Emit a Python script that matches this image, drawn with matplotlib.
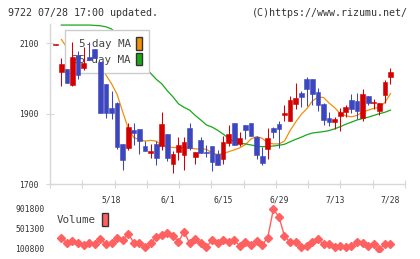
import numpy as np
import matplotlib
matplotlib.use("Agg")
import matplotlib.pyplot as plt
from matplotlib.patches import Patch

plt.rcParams['font.family'] = ['DejaVu Sans Mono']

# candles, index -1 .. 59
opens = [2096, 2019, 2027, 1982, 2067, 2031, 2062, 2083, 2048, 1984, 1916,
         1930, 1814, 1801, 1854, 1856, 1808, 1789, 1814, 1808, 1842,
         1757, 1792, 1782, 1860, 1778, 1825, 1792, 1808, 1784, 1771,
         1818, 1873, 1814, 1868, 1873, 1833, 1780, 1800, 1860, 1871,
         1897, 1880, 1927, 1959, 2000, 1998, 1962, 1927, 1889, 1877,
         1893, 1905, 1939, 1936, 1888, 1950, 1929, 1909, 1953, 2003]
highs = [2098, 2057, 2027, 2105, 2078, 2091, 2103, 2085, 2048, 1984, 1964,
         1932, 1814, 1873, 1873, 1856, 1823, 1813, 1823, 1905, 1842,
         1795, 1835, 1835, 1873, 1791, 1835, 1811, 1808, 1797, 1836,
         1868, 1873, 1847, 1868, 1873, 1836, 1806, 1860, 1863, 1880,
         1925, 1950, 1987, 1965, 2005, 1998, 1973, 1931, 1904, 1891,
         1917, 1925, 1956, 1960, 1970, 1950, 1941, 1929, 1996, 2031]
lows = [2096, 1979, 1986, 1979, 1999, 2024, 2053, 2057, 1903, 1889, 1886,
        1800, 1740, 1797, 1811, 1785, 1794, 1775, 1753, 1797, 1766,
        1732, 1768, 1740, 1797, 1757, 1787, 1776, 1738, 1754, 1757,
        1808, 1811, 1808, 1827, 1837, 1770, 1754, 1770, 1830, 1801,
        1880, 1880, 1913, 1920, 1922, 1925, 1909, 1868, 1865, 1855,
        1852, 1891, 1903, 1886, 1880, 1925, 1912, 1896, 1929, 1984]
closes = [2098, 2041, 1986, 2060, 2010, 2043, 2053, 2057, 1903, 1903, 1903,
          1805, 1768, 1862, 1846, 1823, 1794, 1794, 1775, 1871, 1775,
          1785, 1811, 1820, 1801, 1791, 1789, 1787, 1763, 1754, 1819,
          1842, 1811, 1831, 1854, 1837, 1782, 1761, 1831, 1847, 1856,
          1902, 1939, 1945, 1948, 1970, 1956, 1925, 1882, 1877, 1886,
          1905, 1918, 1912, 1909, 1956, 1929, 1934, 1929, 1991, 2019]

# moving averages, index 0 .. 59
ma5 = [2111, 2088, 2075, 2065, 2058, 2050, 2045, 2035, 2010, 1985,
       1955, 1905, 1858, 1832, 1826, 1822, 1824, 1822, 1810, 1806,
       1804, 1803, 1803, 1802, 1800, 1799, 1799, 1788, 1784, 1786,
       1792, 1797, 1803, 1812, 1828, 1835, 1830, 1817, 1814, 1814,
       1822, 1852, 1876, 1898, 1914, 1936, 1947, 1946, 1930, 1917,
       1900, 1894, 1891, 1895, 1905, 1910, 1915, 1918, 1932, 1957]
ma25 = [2152, 2152, 2152, 2152, 2152, 2152, 2151, 2150, 2147, 2141,
        2125, 2105, 2085, 2065, 2048, 2035, 2015, 1998, 1985, 1965,
        1948, 1928, 1918, 1910, 1895, 1882, 1868, 1862, 1853, 1842,
        1830, 1820, 1816, 1814, 1811, 1808, 1806, 1807, 1808, 1810,
        1813, 1820, 1827, 1833, 1840, 1845, 1847, 1849, 1852, 1857,
        1863, 1870, 1876, 1882, 1886, 1890, 1895, 1900, 1904, 1910]

volume = [305000, 215000, 256000, 215000, 168000, 203000, 182000, 290000,
          189000, 215000, 317000, 270000, 392000, 215000, 215000, 121000,
          203000, 337000, 372000, 406000, 351000, 236000, 439000, 203000,
          284000, 203000, 121000, 270000, 203000, 270000, 223000, 270000,
          148000, 223000, 168000, 250000, 168000, 317000, 896000, 745000,
          351000, 223000, 223000, 133000, 148000, 223000, 284000, 188000,
          188000, 133000, 148000, 133000, 148000, 223000, 203000, 148000,
          182000, 86000, 182000, 188000]

date_labels = ["5/18", "6/1", "6/15", "6/29", "7/13", "7/28"]
date_index = [9, 19, 29, 39, 49, 59]
price_ticks = [1700, 1900, 2100]
vol_ticks = [100800, 501300, 901800]

RED = '#d40000'
BLUE = '#3c46be'
ORANGE = '#f0900a'
GREEN = '#18a818'
VOLC = '#ff6060'
TXT = '#333333'
GRID = '#d8d8d8'

W, H = 420, 259
fig = plt.figure(figsize=(W / 100, H / 100), dpi=100)
XL = (-2.03, 61.6)

ax = fig.add_axes([50 / W, 1 - 184 / H, 355 / W, 160 / H])
ax.set_xlim(*XL)
ax.set_ylim(1700, 2155)

xc = np.arange(-1, 60)
o = np.array(opens); c = np.array(closes)
col = [RED if cc >= oo else BLUE for oo, cc in zip(o, c)]
ax.vlines(xc, lows, highs, colors=col, lw=0.75, zorder=3)
ax.bar(xc, np.abs(c - o), bottom=np.minimum(o, c), width=0.85, color=col,
       edgecolor=col, linewidth=0.4, zorder=3)

xm = np.arange(0, 60)
ax.plot(xm, ma5, color=ORANGE, lw=0.9, zorder=2)
ax.plot(xm, ma25, color=GREEN, lw=0.9, zorder=2)

for s in ['top', 'right']:
    ax.spines[s].set_visible(False)
for s in ['left', 'bottom']:
    ax.spines[s].set_color(GRID)
    ax.spines[s].set_linewidth(1)
ax.set_yticks(price_ticks)
ax.tick_params(axis='y', direction='inout', length=6, color=GRID, pad=5,
               labelsize=5.8, labelcolor=TXT)
ax.set_xticks(np.linspace(XL[0], XL[1], 12))
ax.set_xticklabels([])
ax.tick_params(axis='x', which='major', direction='inout', length=6, color=GRID)
ax.set_xticks(date_index, minor=True)
ax.set_xticklabels(date_labels, minor=True)
ax.tick_params(axis='x', which='minor', length=0, pad=8, labelsize=5.8,
               labelcolor=TXT)

leg = ax.legend([Patch(facecolor=ORANGE, edgecolor='#333333', lw=1),
                 Patch(facecolor=GREEN, edgecolor='#333333', lw=1)],
                ['5-day MA', '25-day MA'], markerfirst=False,
                loc='upper left', bbox_to_anchor=(65 / W, 1 - 30 / H),
                bbox_transform=fig.transFigure, borderaxespad=0,
                fontsize=7.8, handlelength=0.55, handleheight=1.45,
                handletextpad=0.5, labelspacing=0.25, borderpad=0.65,
                fancybox=False, framealpha=1, edgecolor='#cccccc',
                facecolor='white', labelcolor='#444444')
leg.get_frame().set_linewidth(1)
leg.set_zorder(2.5)

# volume panel
av = fig.add_axes([50 / W, 1 - 252 / H, 355 / W, 47 / H])
av.set_xlim(*XL)
av.set_ylim(25400, 983300)
av.plot(xm, volume, color=VOLC, lw=1, marker='D', ms=4.3, mec=VOLC, mfc=VOLC)
for s in av.spines.values():
    s.set_visible(False)
av.set_xticks([])
av.set_yticks(vol_ticks)
av.set_yticklabels([str(v) for v in vol_ticks])
av.tick_params(axis='y', length=0, pad=4, labelsize=5.8, labelcolor=TXT)
lv = av.legend([Patch(facecolor=VOLC, edgecolor='#333333', lw=1)], ['Volume'],
               markerfirst=False, loc='upper left',
               bbox_to_anchor=(55 / W, 1 - 211 / H),
               bbox_transform=fig.transFigure, borderaxespad=0,
               fontsize=7.8, handlelength=0.55, handleheight=1.45,
               handletextpad=0.5, borderpad=0.2, frameon=False,
               labelcolor='#444444')

fig.text(8 / W, 1 - 13 / H, "9722 07/28 17:00 updated.", fontsize=7.2,
         color=TXT, va='center', ha='left')
fig.text(408 / W, 1 - 13 / H, "(C)https://www.rizumu.net/", fontsize=7.2,
         color=TXT, va='center', ha='right')

fig.savefig("out.png", dpi=100)
